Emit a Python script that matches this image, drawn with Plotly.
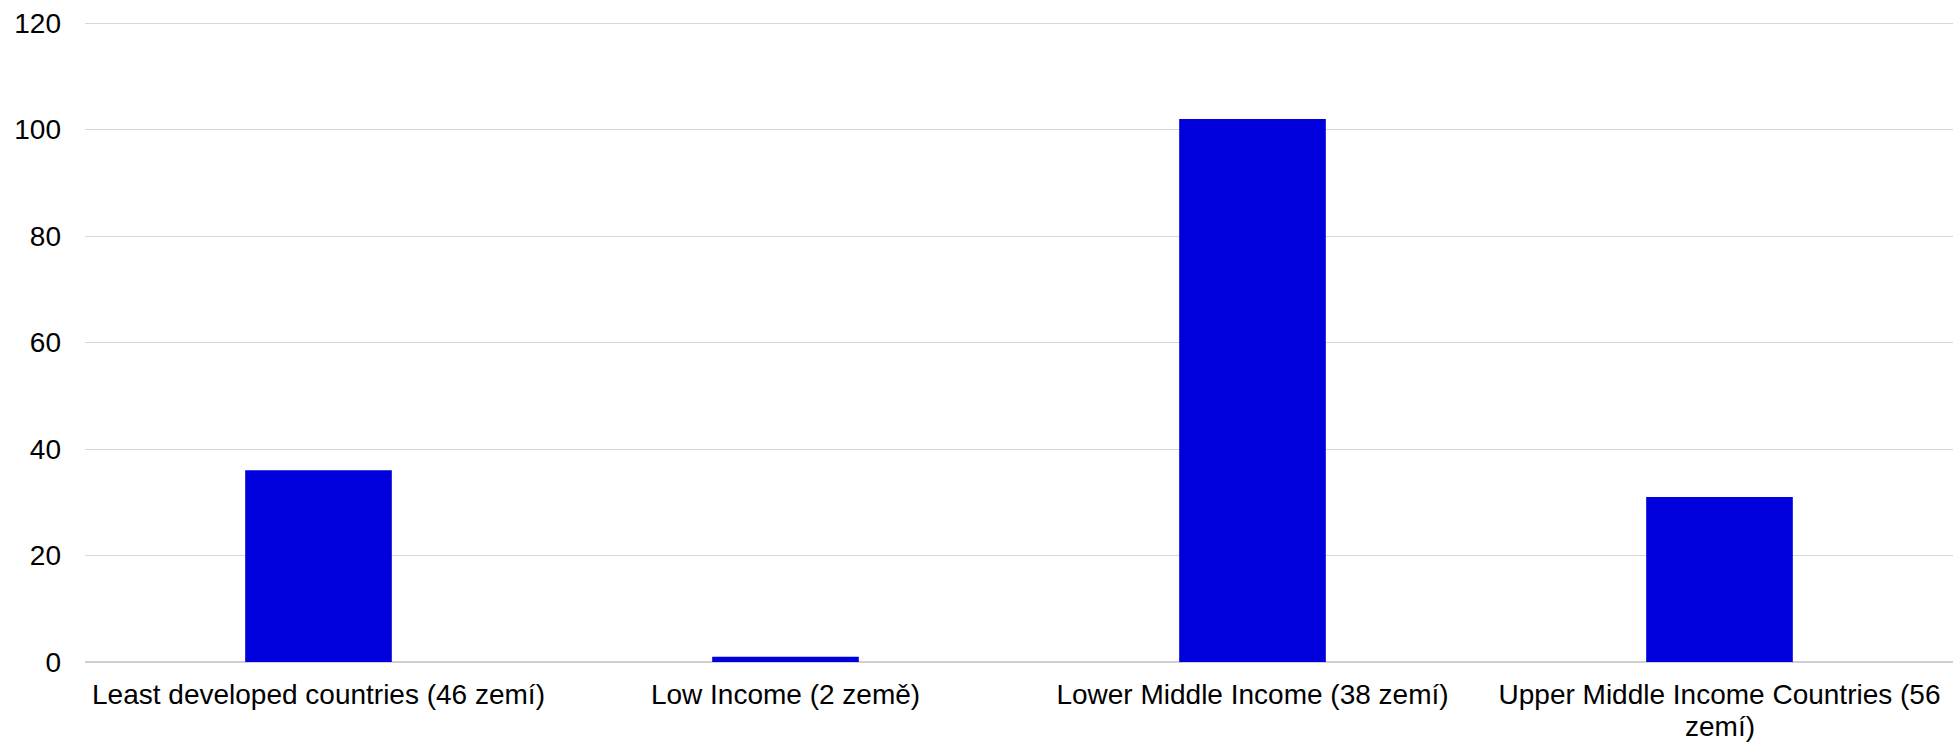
import plotly.graph_objects as go

categories = [
    "Least developed countries (46 zemí)",
    "Low Income (2 země)",
    "Lower Middle Income (38 zemí)",
    "Upper Middle Income Countries (56 zemí)",
]
values = [36, 1, 102, 31]
# tick labels as wrapped in the reference (one list of lines per category)
tick_lines = [
    ["Least developed countries (46 zemí)"],
    ["Low Income (2 země)"],
    ["Lower Middle Income (38 zemí)"],
    ["Upper Middle Income Countries (56", "zemí)"],
]
y_ticks = [0, 20, 40, 60, 80, 100, 120]

FONT = "Liberation Sans, Arial, sans-serif"
FS = 28

fig = go.Figure(
    go.Bar(
        x=categories,
        y=values,
        marker=dict(color="#0000dd", line=dict(width=0)),
        hoverinfo="x+y",
    )
)

# extra wrapped lines, with the tighter line spacing of the reference
annotations = []
for cat, lines in zip(categories, tick_lines):
    for k, line in enumerate(lines[1:], start=1):
        annotations.append(
            dict(
                x=cat, xref="x", y=0, yref="y",
                text=line, showarrow=False,
                xanchor="center", yanchor="middle",
                yshift=-(33 + 31 * k),
                font=dict(family=FONT, size=FS, color="#000000"),
            )
        )

fig.update_layout(
    width=1959,
    height=743,
    margin=dict(l=85, r=6, t=21, b=81, autoexpand=False),
    paper_bgcolor="white",
    plot_bgcolor="white",
    bargap=0.686,
    showlegend=False,
    font=dict(family=FONT, size=FS, color="#000000"),
    annotations=annotations,
)
fig.update_xaxes(
    automargin=False,
    showgrid=False,
    showline=False,
    ticks="",
    tickmode="array",
    tickvals=categories,
    ticktext=[lines[0] for lines in tick_lines],
    tickfont=dict(family=FONT, size=FS, color="#000000"),
    ticklabelstandoff=13,
    tickangle=0,
)
fig.update_yaxes(
    automargin=False,
    range=[0, 120.4],
    tickvals=y_ticks,
    ticktext=[str(v) for v in y_ticks],
    showgrid=True,
    gridcolor="#d6d6d6",
    gridwidth=1.3,
    zeroline=True,
    zerolinecolor="#cfcfcf",
    zerolinewidth=1.6,
    ticks="",
    tickfont=dict(family=FONT, size=FS, color="#000000"),
    ticklabelstandoff=23,
)

fig.write_html(
    "out.html",
    config={"displayModeBar": False},
    post_script="document.body.style.margin='0';document.body.style.overflow='hidden';",
)
